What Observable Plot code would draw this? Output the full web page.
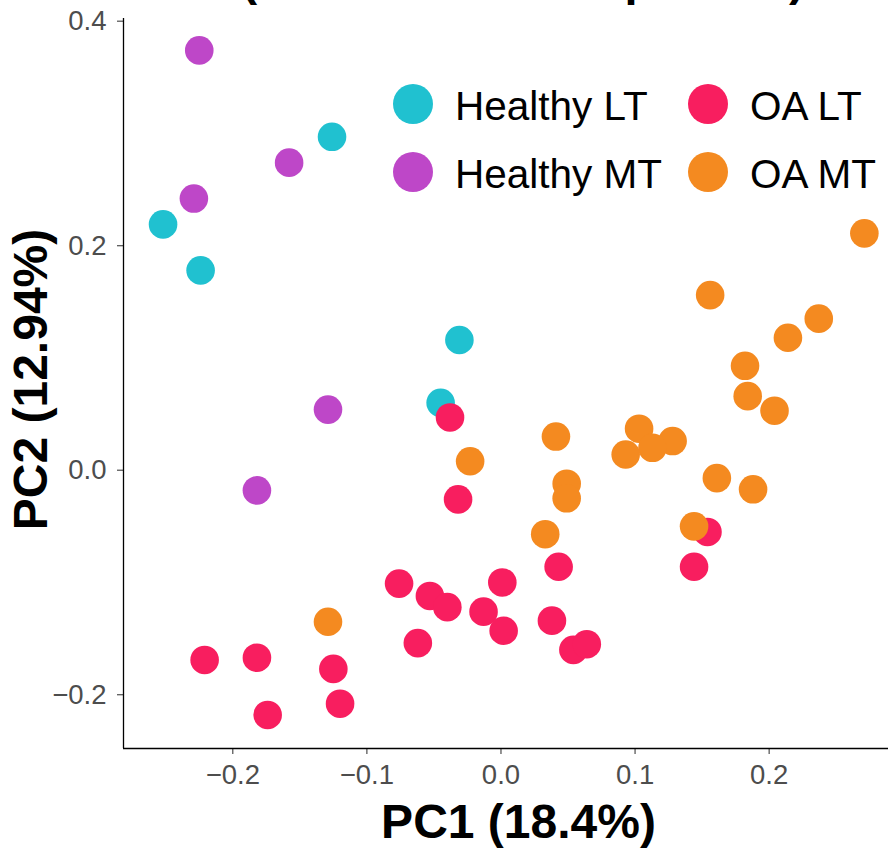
<!DOCTYPE html>
<html>
<head>
<meta charset="utf-8">
<script src="https://cdn.jsdelivr.net/npm/d3@7"></script>
<script src="https://cdn.jsdelivr.net/npm/@observablehq/plot@0.6"></script>
<style>
  html, body { margin: 0; padding: 0; background: #fff; }
  #wrap { position: relative; width: 888px; height: 852px; overflow: hidden; font-family: "Liberation Sans", Arial, Helvetica, sans-serif; }
  #legend { position: absolute; left: 0; top: 0; }
</style>
</head>
<body>
<div id="wrap"></div>
<script>
// ---- data ----
const groups = ["Healthy LT", "Healthy MT", "OA LT", "OA MT"];
const colors = ["#20C1D0", "#BE47C8", "#F81E5F", "#F48A20"];

const healthyLT_pc1 = [-0.126, -0.252, -0.224, -0.031, -0.045];
const healthyLT_pc2 = [0.297, 0.219, 0.178, 0.116, 0.060];

const healthyMT_pc1 = [-0.225, -0.158, -0.229, -0.129, -0.182];
const healthyMT_pc2 = [0.374, 0.274, 0.242, 0.054, -0.018];

const oaLT_pc1 = [-0.038, -0.032, -0.076, -0.053, -0.040, 0.001, -0.013, 0.002, -0.062, 0.043, 0.038, 0.054, 0.064, -0.221, -0.182, -0.174, -0.125, -0.120, 0.154, 0.144];
const oaLT_pc2 = [0.047, -0.026, -0.101, -0.112, -0.122, -0.100, -0.126, -0.143, -0.154, -0.086, -0.134, -0.160, -0.155, -0.169, -0.167, -0.218, -0.177, -0.208, -0.055, -0.086];

const oaMT_pc1 = [0.271, 0.156, 0.237, 0.214, 0.182, 0.184, 0.204, 0.041, 0.103, 0.128, 0.113, 0.093, 0.049, 0.049, 0.033, 0.161, 0.188, 0.144, -0.023, -0.129];
const oaMT_pc2 = [0.211, 0.156, 0.135, 0.118, 0.093, 0.066, 0.053, 0.030, 0.037, 0.026, 0.020, 0.014, -0.012, -0.025, -0.057, -0.007, -0.017, -0.050, 0.008, -0.135];

const xTicks = [-0.2, -0.1, 0.0, 0.1, 0.2];
const yTicks = [-0.2, 0.0, 0.2, 0.4];
const xDomain = [-0.2815, 0.289];
const yDomain = [-0.2479, 0.4024];

const xLabel = "PC1 (18.4%)";
const yLabel = "PC2 (12.94%)";
const titleText = "(LT and MT tibial plateau)";

// ---- build table ----
const series = [
  [healthyLT_pc1, healthyLT_pc2],
  [healthyMT_pc1, healthyMT_pc2],
  [oaLT_pc1, oaLT_pc2],
  [oaMT_pc1, oaMT_pc2]
];
const points = [];
series.forEach(([xs, ys], gi) => xs.forEach((x, i) => points.push({group: groups[gi], pc1: x, pc2: ys[i]})));

const fmt = d => (d < 0 ? "\u2212" : "") + Math.abs(d).toFixed(1);
const FONT = "'Liberation Sans', Arial, Helvetica, sans-serif";

const chart = Plot.plot({
  width: 888,
  height: 852,
  marginLeft: 123,
  marginRight: 0,
  marginTop: 18,
  marginBottom: 104,
  style: {fontFamily: FONT, background: "#fff", overflow: "hidden"},
  x: {domain: xDomain},
  y: {domain: yDomain},
  color: {domain: groups, range: colors},
  marks: [
    Plot.axisX({ticks: xTicks, tickFormat: fmt, tickSize: 6, tickPadding: 10, fontSize: 27.5, color: "#4d4d4d", strokeWidth: 1.2, label: null}),
    Plot.axisY({ticks: yTicks, tickFormat: fmt, tickSize: 6, tickPadding: 11, fontSize: 27.5, color: "#4d4d4d", strokeWidth: 1.2, label: null}),
    Plot.ruleX([xDomain[0]], {stroke: "#000", strokeWidth: 1.3}),
    Plot.ruleY([yDomain[0]], {stroke: "#000", strokeWidth: 1.3}),
    Plot.dot(points, {x: "pc1", y: "pc2", fill: "group", r: 14.3, stroke: "none"}),
    Plot.text([xLabel], {frameAnchor: "bottom", dx: 12.5, dy: 74.6, fontSize: 48, fontWeight: "bold", fill: "#000", lineAnchor: "middle", textAnchor: "middle"}),
    Plot.text([yLabel], {frameAnchor: "left", textAnchor: "middle", rotate: -90, dx: -92, dy: -4, fontSize: 48, fontWeight: "bold", fill: "#000", lineAnchor: "middle"}),
    Plot.text([titleText], {frameAnchor: "top-left", textAnchor: "start", dx: 118, dy: -39, fontSize: 47, fontWeight: "bold", fill: "#000", lineAnchor: "middle"})
  ]
});
document.getElementById("wrap").appendChild(chart);

// ---- legend (custom, ggplot-like) ----
const legendPos = [[413, 104], [413, 172], [708, 104], [708, 172]];
const legend = d3.select("#wrap").append("svg")
  .attr("id", "legend").attr("width", 888).attr("height", 852)
  .style("pointer-events", "none");
groups.forEach((g, i) => {
  const [cx, cy] = legendPos[i];
  legend.append("circle").attr("cx", cx).attr("cy", cy).attr("r", 20).attr("fill", colors[i]);
  legend.append("text").attr("x", cx + 42).attr("y", cy + 16)
    .attr("font-family", FONT).attr("font-size", 40.5).attr("fill", "#000").text(g);
});
</script>
</body>
</html>
